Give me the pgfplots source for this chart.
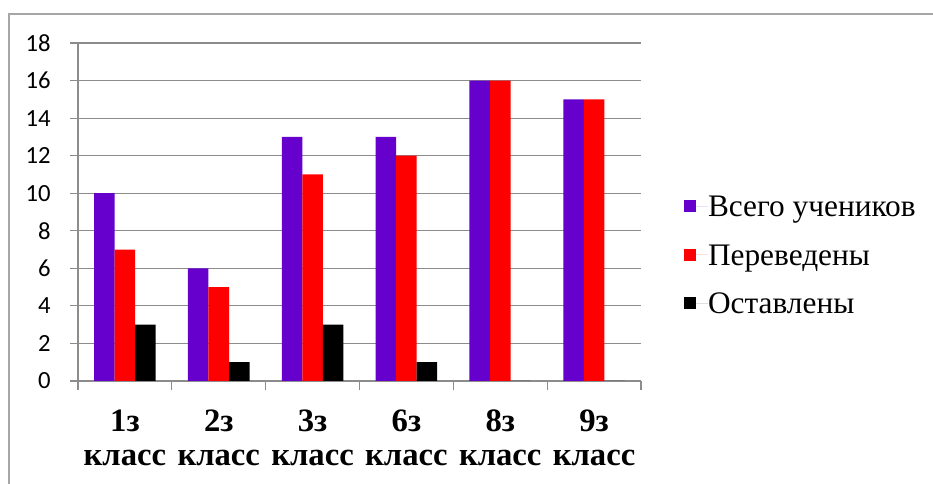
\documentclass[border=0pt]{standalone}
\usepackage{pgfplots}
\pgfplotsset{compat=1.18}
\usepackage{fontspec}
\setmainfont{Liberation Serif}
\newfontfamily\carlito{Carlito}
\definecolor{cPurple}{HTML}{6600CC}
\definecolor{cRed}{HTML}{FF0000}
\definecolor{cGrid}{HTML}{8C8C8C}
\definecolor{cFrame}{HTML}{A6A6A6}
\begin{document}
\begin{tikzpicture}[x=1pt,y=1pt]
\useasboundingbox (0,0) rectangle (699.75,363);
\draw[cFrame, line width=1.1pt] (6.75,0) -- (6.75,352.5) -- (699.75,352.5);
\begin{axis}[
  at={(58.5pt,77.25pt)}, anchor=south west,
  scale only axis, width=422.25pt, height=253.5pt,
  ybar=0pt, bar width=15.4pt,
  xmin=-0.5, xmax=5.5, ymin=0, ymax=18,
  ytick={0,2,...,18},
  xtick={0,...,5},
  xticklabels={{1з\strut\\класс\strut},{2з\strut\\класс\strut},{3з\strut\\класс\strut},{6з\strut\\класс\strut},{8з\strut\\класс\strut},{9з\strut\\класс\strut}},
  x tick label style={font=\bfseries\fontsize{24.5}{26}\selectfont, align=center, anchor=north, yshift=-10pt},
  major x tick style={draw=none},
  extra x ticks={-0.5,0.5,1.5,2.5,3.5,4.5,5.5},
  extra x tick labels={},
  extra x tick style={major x tick style={draw=cGrid, line width=0.8pt}, major tick length=7pt, tick align=outside, grid=none},
  axis x line*=bottom, axis y line*=left,
  axis line style={cGrid, line width=0.8pt},
  ymajorgrids, grid style={cGrid, line width=0.8pt},
  tick align=outside, major tick length=6pt,
  major y tick style={cGrid, line width=0.8pt},
  /pgf/number format/assume math mode=true,
  y tick label style={font=\carlito\fontsize{18.5}{20}\selectfont, xshift=-11pt},
  legend style={at={(1.076,0.373)}, anchor=west, draw=none, fill=none,
    font=\fontsize{23.5}{25}\selectfont, row sep=21pt, inner sep=0pt,
    nodes={inner sep=0pt, text depth=0pt}},
  legend cell align=left,
  legend image code/.code={\fill[#1, draw=none] (0pt,-4.5pt) rectangle (9pt,4.5pt); \path (9pt,0) -- (18pt,0);},
  clip=false,
]
\addplot[fill=cPurple, draw=none] coordinates {(0,10) (1,6) (2,13) (3,13) (4,16) (5,15)};
\addplot[fill=cRed, draw=none] coordinates {(0,7) (1,5) (2,11) (3,12) (4,16) (5,15)};
\addplot[fill=black, draw=none] coordinates {(0,3) (1,1) (2,3) (3,1) (4,0) (5,0)};
\legend{Всего учеников, Переведены, Оставлены}
\end{axis}
\end{tikzpicture}
\end{document}
